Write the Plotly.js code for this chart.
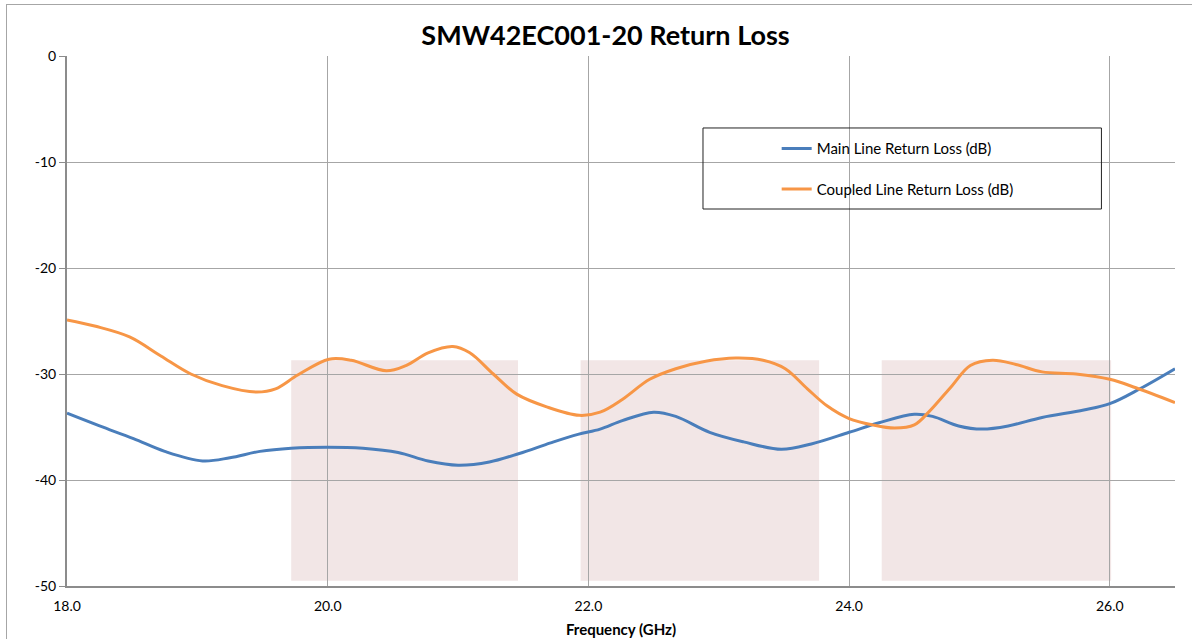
<!DOCTYPE html>
<html>
<head>
<meta charset="utf-8">
<script src="https://cdn.plot.ly/plotly-3.0.1.min.js"></script>
<style>
html,body{margin:0;padding:0;background:#fff;overflow:hidden;}
#frame{position:absolute;left:6px;top:4px;width:1200px;height:660px;border:1px solid #a6a6a6;box-sizing:border-box;}
#chart{position:absolute;left:0;top:0;width:1192px;height:639px;}
</style>
</head>
<body>
<div id="frame"></div>
<div id="chart"></div>
<script>
// Frequency (GHz) and return loss (dB)
const mainFreq = [18.0,18.25,18.51,18.75,19.04,19.25,19.48,19.72,20.0,20.27,20.54,20.77,21.0,21.24,21.47,21.71,21.92,22.09,22.26,22.5,22.67,22.93,23.19,23.48,23.71,24.0,24.23,24.5,24.64,24.84,25.02,25.22,25.48,25.8,26.0,26.23,26.5];
const mainRL   = [-33.7,-34.9,-36.1,-37.3,-38.2,-37.9,-37.3,-37.0,-36.9,-37.0,-37.4,-38.2,-38.6,-38.3,-37.5,-36.5,-35.7,-35.2,-34.4,-33.6,-34.0,-35.5,-36.4,-37.1,-36.6,-35.5,-34.6,-33.8,-34.0,-34.9,-35.2,-34.9,-34.1,-33.4,-32.8,-31.4,-29.5];
const coupFreq = [18.0,18.22,18.48,18.72,18.95,19.19,19.45,19.6,19.77,20.01,20.18,20.45,20.6,20.77,20.96,21.09,21.27,21.45,21.68,21.93,22.09,22.26,22.47,22.67,22.9,23.13,23.34,23.51,23.68,23.83,24.0,24.18,24.35,24.5,24.61,24.79,24.93,25.1,25.28,25.48,25.74,26.0,26.2,26.5];
const coupRL   = [-24.9,-25.5,-26.5,-28.3,-30.0,-31.1,-31.7,-31.4,-30.1,-28.6,-28.7,-29.7,-29.2,-28.0,-27.4,-28.0,-30.0,-31.9,-33.1,-33.9,-33.6,-32.4,-30.5,-29.5,-28.8,-28.5,-28.7,-29.5,-31.4,-33.0,-34.2,-34.8,-35.1,-34.8,-33.6,-31.1,-29.2,-28.7,-29.1,-29.8,-30.0,-30.5,-31.3,-32.7];
const seriesNames = ["Main Line Return Loss (dB)","Coupled Line Return Loss (dB)"];
const xTicks = [18,20,22,24,26];
const xTickText = ["18.0","20.0","22.0","24.0","26.0"];
const yTicks = [0,-10,-20,-30,-40,-50];
const yTickText = ["0","-10","-20","-30","-40","-50"];
// shaded frequency bands: start, end (GHz), top/bottom (dB)
const bandStart = [19.72,21.94,24.25];
const bandEnd   = [21.46,23.77,26.01];
const bandTop = -28.7, bandBottom = -49.5;

const font = "Lato, 'Open Sans', sans-serif";
const shapes = bandStart.map((s,i)=>({type:'rect',xref:'x',yref:'y',x0:s,x1:bandEnd[i],y0:bandBottom,y1:bandTop,fillcolor:'#f2e6e6',line:{width:0},layer:'below'}));
shapes.push({type:'rect',xref:'paper',yref:'paper',x0:0.574,x1:0.9336,y0:0.7113,y1:0.8642,line:{color:'#222',width:1},fillcolor:'rgba(0,0,0,0)'});

const traces = [
  {x:mainFreq,y:mainRL,name:seriesNames[0],mode:'lines',line:{color:'#4a7ebb',width:3,shape:'spline',smoothing:1},legendgroup:'a'},
  {x:coupFreq,y:coupRL,name:seriesNames[1],mode:'lines',line:{color:'#f79646',width:3,shape:'spline',smoothing:1},legendgroup:'b'}
];
const layout = {
  width:1192,height:639,
  paper_bgcolor:'rgba(0,0,0,0)',plot_bgcolor:'rgba(0,0,0,0)',
  margin:{l:67,r:17,t:56,b:53},
  title:{text:'<b>SMW42EC001-20 Return Loss</b>',font:{family:font,size:27,color:'#000'},x:0.508,xref:'container',y:0.944,yanchor:'middle'},
  xaxis:{range:[18,26.5],tickvals:xTicks,ticktext:xTickText,showgrid:true,gridcolor:'#a6a6a6',gridwidth:1,
    showline:true,linecolor:'#8c8c8c',linewidth:2,mirror:false,zeroline:false,ticks:'',ticklabelstandoff:6,
    tickfont:{family:font,size:14,color:'#000'},
    title:{text:'<b>Frequency (GHz)</b>',font:{family:font,size:15,color:'#000'},standoff:12}},
  yaxis:{range:[-50,0],tickvals:yTicks,ticktext:yTickText,showgrid:true,gridcolor:'#a6a6a6',gridwidth:1,
    showline:true,linecolor:'#8c8c8c',linewidth:2,zeroline:false,ticks:'outside',ticklen:6,tickcolor:'#8c8c8c',
    tickfont:{family:font,size:14,color:'#000'}},
  shapes:shapes,
  showlegend:true,
  legend:{x:0.6405,y:0.856,xanchor:'left',yanchor:'top',bgcolor:'rgba(255,255,255,0)',borderwidth:0,
    font:{family:font,size:15,color:'#000'},traceorder:'grouped',tracegroupgap:18,itemwidth:30}
};
Plotly.newPlot('chart',traces,layout,{displayModeBar:false,staticPlot:true});
</script>
</body>
</html>
